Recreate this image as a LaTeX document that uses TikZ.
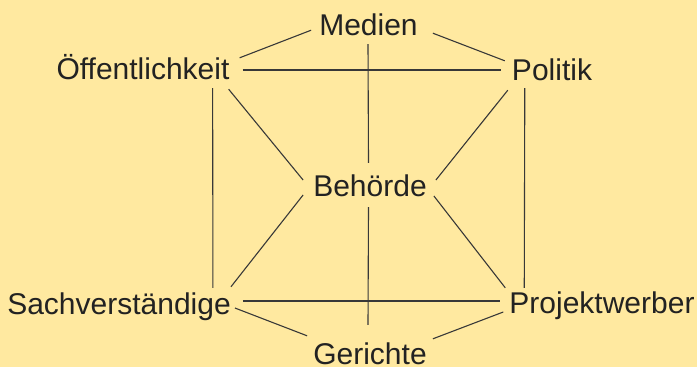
\documentclass[tikz,border=0pt]{standalone}
\usepackage{fontspec}
\setmainfont{Liberation Sans}
\definecolor{bgyellow}{HTML}{FFE9A0}
\definecolor{ink}{HTML}{222222}
\tikzset{actor/.style={anchor=base,inner sep=0pt,text height=22bp,text depth=0pt,text=ink,font=\fontsize{30bp}{36bp}\selectfont},link/.style={line width=1.1bp,draw=ink!90}}

\begin{document}
\begin{tikzpicture}[x=1bp,y=-1bp]
\fill[bgyellow] (0,0) rectangle (697,367);
\useasboundingbox (0,0) rectangle (697,367);
% die Akteure
\node[actor] (med) at (368.5,35) {Medien};
\node[actor] (oef) at (143,79) {Öffentlichkeit};
\node[actor] (pol) at (552,80) {Politik};
\node[actor] (beh) at (370,196) {Behörde};
\node[actor] (sac) at (119,314) {Sachverständige};
\node[actor] (pro) at (602,313) {Projektwerber};
\node[actor] (ger) at (370,364) {Gerichte};
% oben
\draw[link] ([shift={(-8,-5)}]med.south west)--([shift={(10,1)}]oef.north east);
\draw[link] ([shift={(15,-2)}]med.south east)--([shift={(-7,3)}]pol.north west);
\draw[link] ([shift={(13,2)}]oef.east)--([shift={(-11,1)}]pol.west);
\draw[link] ([shift={(-0.5,9)}]med.south)--([shift={(-1.5,-11)}]beh.north);
% Mitte
\draw[link] ([shift={(-1,10)}]oef.south east)--([shift={(-10,-5)}]beh.west);
\draw[link] ([shift={(-4,10)}]pol.south west)--([shift={(9,-5)}]beh.east);
\draw[link] ([shift={(-10,10)}]beh.west)--([shift={(0,-5)}]sac.north east);
\draw[link] ([shift={(7,11)}]beh.east)--([shift={(-4,-3)}]pro.north west);
\draw[link] ([shift={(-17,9)}]oef.south east)--([shift={(-18,-4)}]sac.north east);
\draw[link] ([shift={(13,8)}]pol.south west)--([shift={(15,-3)}]pro.north west);
% unten
\draw[link] ([shift={(12,-2)}]sac.east)--([shift={(-9,-1)}]pro.west);
\draw[link] ([shift={(4,5)}]sac.east)--([shift={(-6,-6)}]ger.north west);
\draw[link] ([shift={(-6,10)}]pro.west)--([shift={(6,-3)}]ger.north east);
\draw[link] ([shift={(-1.5,11)}]beh.south)--([shift={(-2,-17)}]ger.north);
\end{tikzpicture}
\end{document}
